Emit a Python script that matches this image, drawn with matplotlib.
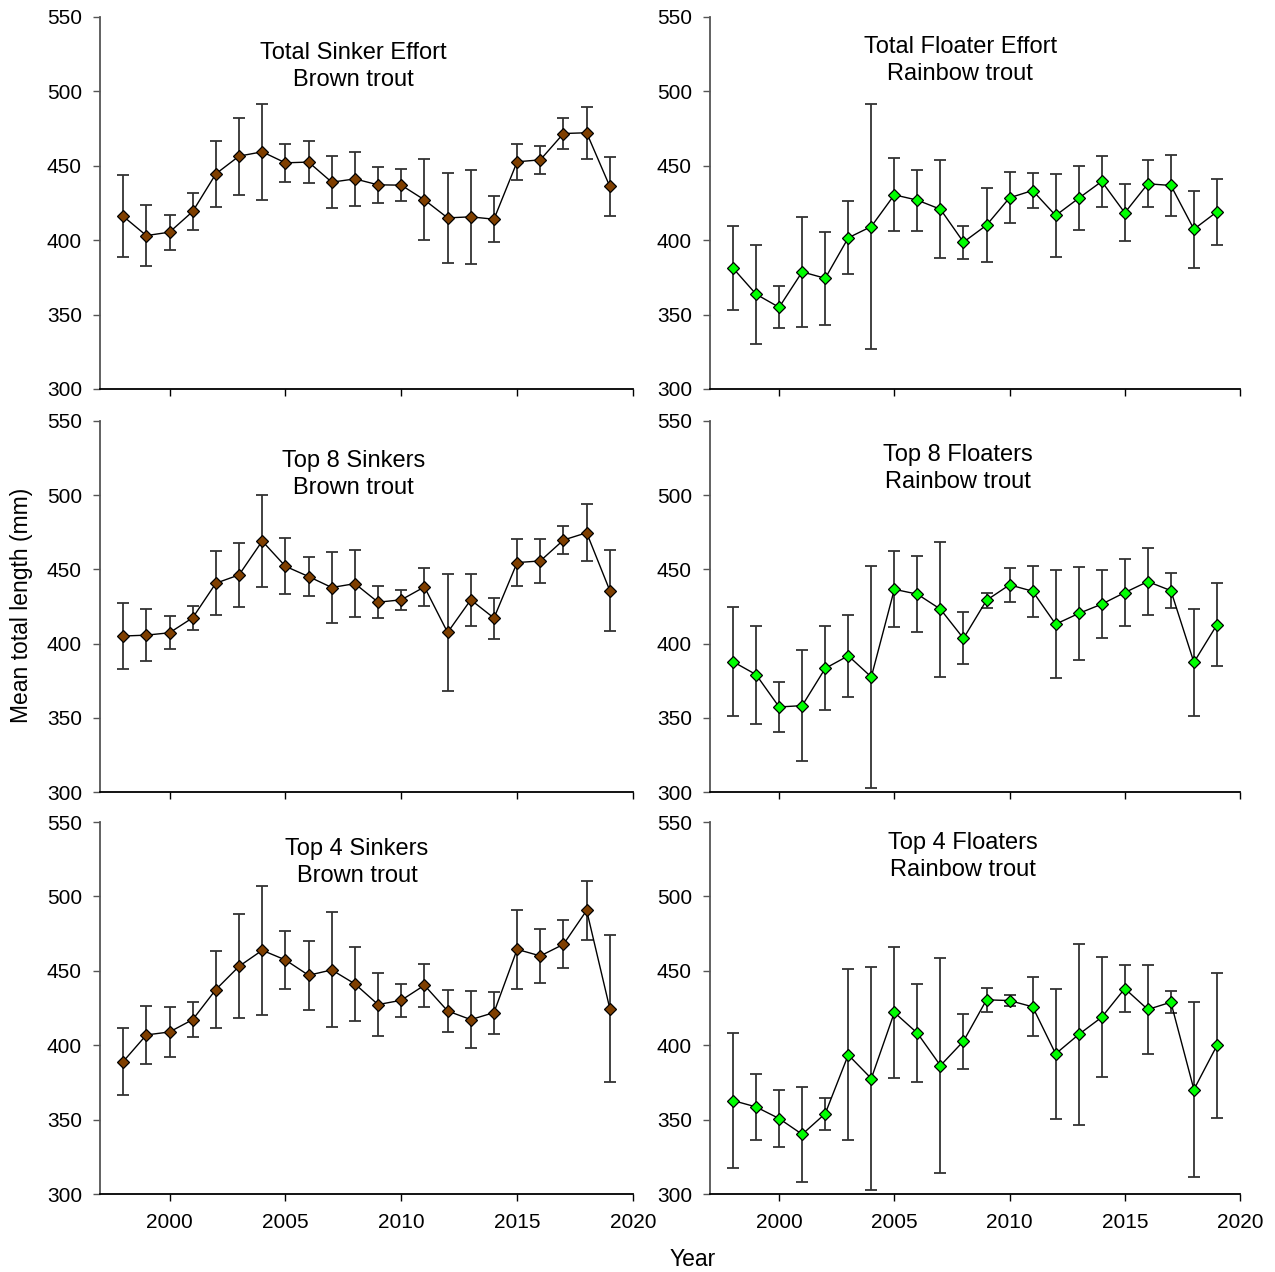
import matplotlib
matplotlib.use("Agg")
import matplotlib.pyplot as plt
import numpy as np

plt.rcParams["font.family"] = ["Liberation Sans", "DejaVu Sans"]

years = list(range(1998, 2020))

# Brown trout (sinkers) - mean total length and error bar half-widths (mm)
sink_total = [416.1, 403.1, 405.4, 419.3, 444.6, 456.5, 459.4, 452.0, 452.5, 439.0, 441.2,
              437.2, 437.0, 427.1, 415.0, 415.7, 414.1, 452.7, 454.0, 471.7, 472.2, 436.1]
sink_total_err = [27.7, 20.3, 11.8, 12.4, 22.0, 25.9, 32.3, 12.9, 13.9, 17.6, 18.3,
                  11.9, 10.6, 27.3, 30.0, 31.5, 15.3, 12.0, 9.6, 10.5, 17.5, 20.1]

sink_top8 = [405.1, 405.7, 407.3, 417.4, 440.7, 446.3, 469.1, 452.1, 445.2, 437.8, 440.4,
             427.9, 429.5, 438.2, 407.5, 429.5, 417.2, 454.6, 455.7, 469.8, 474.7, 435.7]
sink_top8_err = [22.3, 17.4, 11.0, 8.0, 21.5, 21.5, 31.1, 19.0, 12.9, 24.2, 22.6,
                 10.6, 6.7, 12.9, 39.3, 17.6, 13.8, 15.7, 14.7, 9.3, 19.1, 27.3]

sink_top4 = [389.0, 406.9, 408.9, 417.2, 437.4, 453.0, 463.8, 457.3, 447.0, 450.6, 441.2,
             427.3, 430.2, 440.3, 423.0, 417.2, 421.9, 464.4, 460.0, 467.8, 490.6, 424.6]
sink_top4_err = [22.5, 19.4, 16.5, 11.7, 25.8, 35.0, 43.3, 19.4, 23.3, 38.6, 25.1,
                 21.1, 11.0, 14.6, 13.9, 18.9, 14.1, 26.7, 17.9, 16.1, 19.6, 49.6]

# Rainbow trout (floaters)
float_total = [381.2, 363.7, 354.9, 378.7, 374.4, 401.6, 409.2, 430.5, 426.9, 420.8, 398.7,
               410.1, 428.5, 433.4, 416.6, 428.2, 439.5, 418.4, 437.9, 436.8, 407.4, 419.1]
float_total_err = [28.3, 33.2, 14.2, 36.7, 31.4, 24.5, 82.2, 24.6, 20.5, 33.0, 11.0,
                   25.0, 17.1, 12.0, 27.9, 21.5, 17.1, 19.1, 15.7, 20.7, 26.0, 22.2]

float_top8 = [387.8, 379.1, 357.3, 358.2, 383.3, 391.8, 377.5, 436.6, 433.3, 423.2, 403.5,
              429.2, 439.6, 435.3, 413.1, 420.3, 426.6, 434.4, 441.8, 435.7, 387.4, 412.7]
float_top8_err = [36.6, 33.0, 16.9, 37.2, 28.3, 27.8, 74.7, 25.6, 25.6, 45.6, 17.5,
                  5.0, 11.3, 17.2, 36.5, 31.5, 23.0, 22.6, 22.3, 11.8, 36.2, 28.0]

float_top4 = [362.8, 358.5, 350.7, 340.1, 354.0, 393.5, 377.6, 422.0, 408.1, 386.3, 402.7,
              430.5, 430.0, 425.8, 394.2, 407.2, 418.8, 438.1, 424.0, 428.9, 370.2, 399.8]
float_top4_err = [45.5, 21.9, 19.4, 32.1, 10.7, 57.4, 75.0, 44.0, 32.7, 72.3, 18.5,
                  7.9, 3.6, 19.9, 43.7, 61.1, 40.4, 15.7, 30.2, 7.2, 58.8, 48.6]

titles = ["Total Sinker Effort\nBrown trout", "Total Floater Effort\nRainbow trout",
          "Top 8 Sinkers\nBrown trout", "Top 8 Floaters\nRainbow trout",
          "Top 4 Sinkers\nBrown trout", "Top 4 Floaters\nRainbow trout"]

BROWN = "#7f3f00"
GREEN = "#00ff00"

panels = [
    (sink_total, sink_total_err, BROWN),
    (float_total, float_total_err, GREEN),
    (sink_top8, sink_top8_err, BROWN),
    (float_top8, float_top8_err, GREEN),
    (sink_top4, sink_top4_err, BROWN),
    (float_top4, float_top4_err, GREEN),
]

# axes rectangles in pixels (left, width) / (top, height)
W, H = 1275, 1272
col_x = [(100, 533), (710, 530)]
row_y = [(17, 372), (421, 371), (822, 372)]
title_pos = [(0.475, 0.868), (0.472, 0.882), (0.475, 0.857), (0.468, 0.873),
             (0.482, 0.892), (0.477, 0.908)]

fig = plt.figure(figsize=(W / 100, H / 100), dpi=100)

for i, (mean, err, color) in enumerate(panels):
    r, c = divmod(i, 2)
    x0, w = col_x[c]
    y0, h = row_y[r]
    ax = fig.add_axes([x0 / W, 1 - (y0 + h) / H, w / W, h / H])

    ax.errorbar(years, mean, yerr=err, fmt="none", ecolor="#333333",
                elinewidth=1.3, capsize=4.5, capthick=1.3, zorder=1)
    ax.plot(years, mean, color="black", linewidth=1.0, zorder=2)
    ax.plot(years, mean, linestyle="none", marker="D", markersize=6.5,
            markerfacecolor=color, markeredgecolor="black", markeredgewidth=0.9, zorder=3)

    ax.set_xlim(1997, 2020)
    ax.set_ylim(300, 550)
    ax.set_xticks([2000, 2005, 2010, 2015, 2020])
    ax.set_yticks([300, 350, 400, 450, 500, 550])
    for s in ["top", "right"]:
        ax.spines[s].set_visible(False)
    ax.spines["left"].set_linewidth(1.3)
    ax.spines["left"].set_color("#555555")
    ax.spines["bottom"].set_linewidth(1.3)
    ax.tick_params(direction="out", length=5, width=1, labelsize=15)
    ax.tick_params(axis="y", pad=8, color="#555555")
    ax.tick_params(axis="x", pad=9)
    if r < 2:
        ax.set_xticklabels([])

    tx, ty = title_pos[i]
    ax.text(tx, ty, titles[i], transform=ax.transAxes, ha="center", va="center",
            fontsize=17, linespacing=1.3)

fig.text(22 / W, 1 - 605 / H, "Mean total length (mm)", rotation=90,
         ha="center", va="center", fontsize=16.5)
fig.text(693 / W, 1 - 1260 / H, "Year", ha="center", va="center", fontsize=16.5)

fig.savefig("out.png", dpi=100)
